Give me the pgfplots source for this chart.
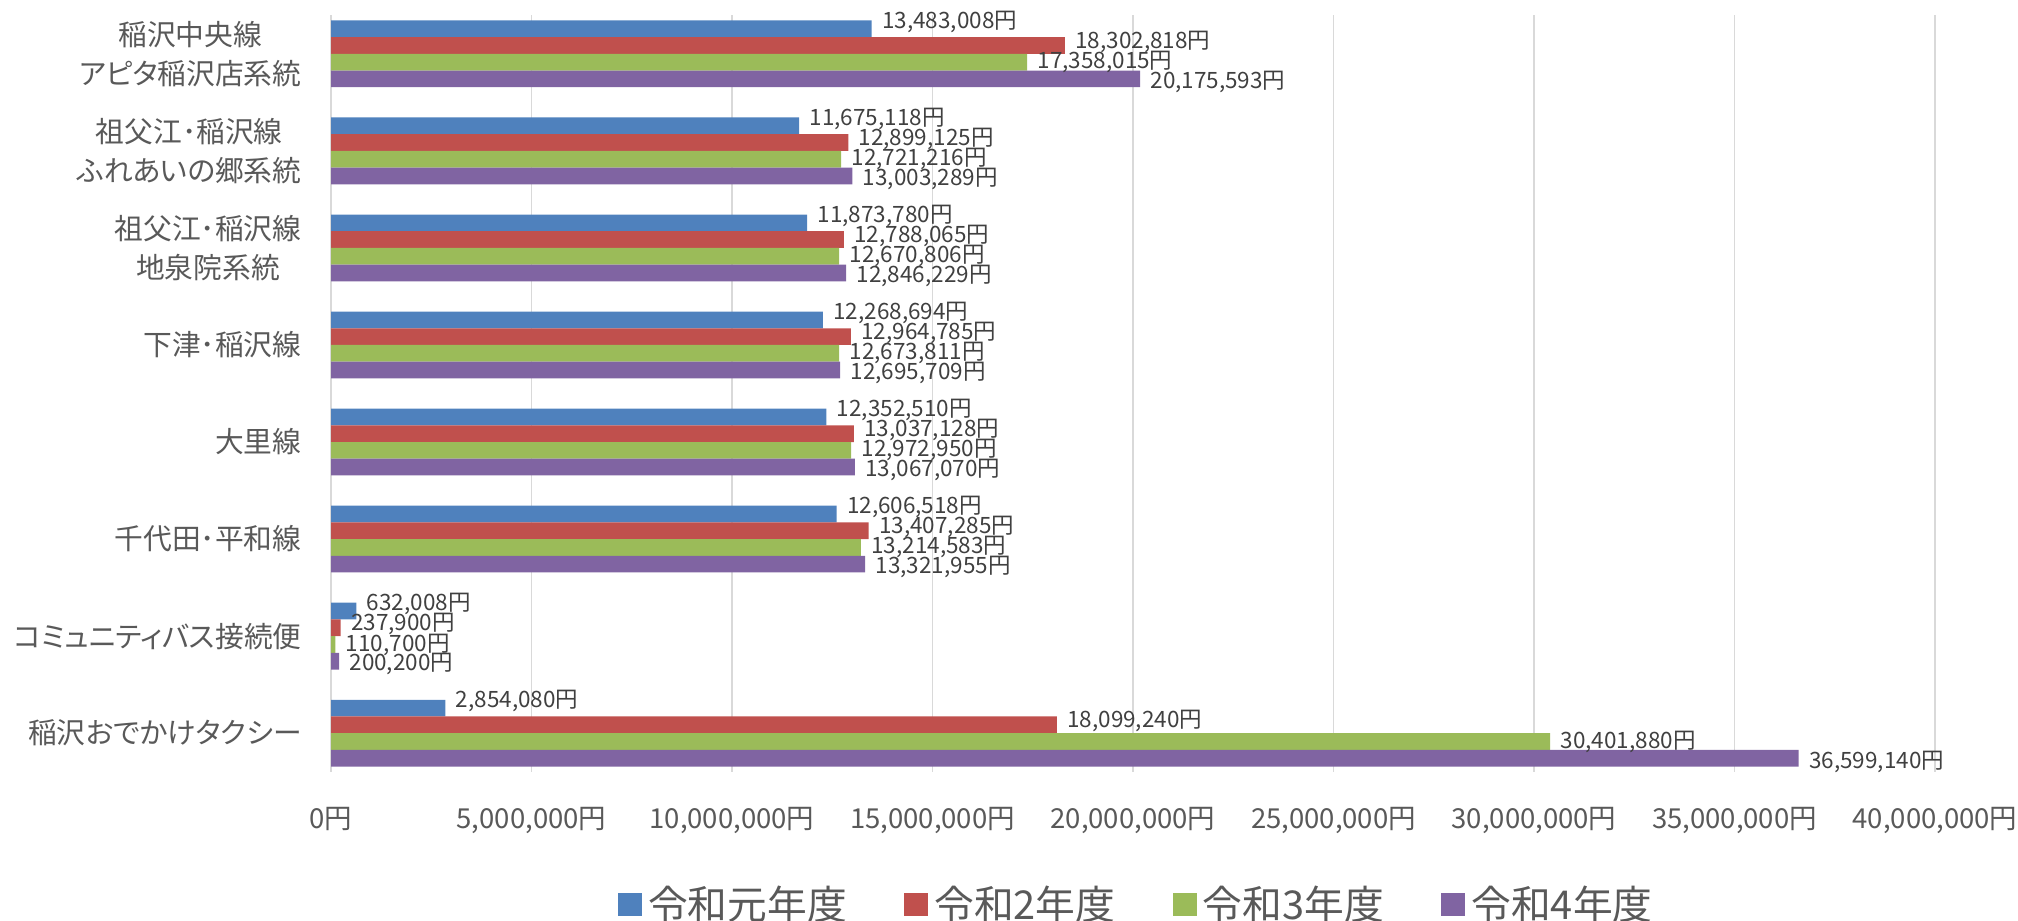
\documentclass[border=0pt]{standalone}
\usepackage{fontspec}
\setmainfont{Noto Sans CJK JP}
\newfontfamily\jpp[RawFeature=+palt]{Noto Sans CJK JP}
\usepackage{pgfplots}
\pgfplotsset{compat=1.18}
\definecolor{c1}{HTML}{4F81BD}
\definecolor{c2}{HTML}{C0504D}
\definecolor{c3}{HTML}{9BBB59}
\definecolor{c4}{HTML}{8064A2}
\definecolor{txt}{HTML}{595959}
\definecolor{lbl}{HTML}{404040}
\definecolor{gridc}{HTML}{D9D9D9}
\begin{document}
\begin{tikzpicture}[x=1pt,y=1pt]
\useasboundingbox (0,0) rectangle (807.2,368.4);
\begin{axis}[
  at={(132.4pt,59.6pt)}, anchor=south west,
  scale only axis, width=641.6pt, height=302.8pt,
  xbar,
  xmin=0, xmax=40000000,
  ymin=-0.4, ymax=7.4, y dir=reverse,
  ytick={0,1,2,3,4,5,6,7},
  yticklabels={{稲沢中央線\\アピタ稲沢店系統},{祖父江･稲沢線\\ふれあいの郷系統},{祖父江･稲沢線\\地泉院系統},{下津･稲沢線},{大里線},{千代田･平和線},{コミュニティバス接続便},{稲沢おでかけタクシー}},
  yticklabel style={align=center, font=\jpp\fontsize{11.5}{15.5}\selectfont, text=txt, xshift=-4pt},
  xtick={0,5000000,10000000,15000000,20000000,25000000,30000000,35000000,40000000},
  xticklabels={{0円},{5,000,000円},{10,000,000円},{15,000,000円},{20,000,000円},{25,000,000円},{30,000,000円},{35,000,000円},{40,000,000円}},
  xticklabel style={font=\fontsize{11}{13}\selectfont, text=txt, yshift=-10.5pt},
  scaled x ticks=false,
  xmajorgrids, major grid style={gridc, line width=0.6pt},
  axis line style={draw=none},
  tick style={draw=none},
  bar width=0.172,
  point meta=explicit symbolic,
  nodes near coords,
  nodes near coords style={font=\fontsize{9}{10}\selectfont, text=lbl, anchor=west, inner sep=1pt, xshift=3pt},
  legend style={at={(0.503,-0.175)}, anchor=center, draw=none, fill=none, legend columns=4,
    font=\fontsize{15.9}{18}\selectfont, text=txt,
    /tikz/every even column/.append style={column sep=21pt}},
  legend image code/.code={\fill[#1] (0pt,-4.7pt) rectangle (9.5pt,4.7pt); \path (10pt,0pt);},
  clip=false,
]
\addplot[fill=c1, draw=none, bar shift=-0.258, every node near coord/.append style={yshift=2.8pt}] coordinates {
 (13483008,0) [13,483,008円]
 (11675118,1) [11,675,118円]
 (11873780,2) [11,873,780円]
 (12268694,3) [12,268,694円]
 (12352510,4) [12,352,510円]
 (12606518,5) [12,606,518円]
 (632008,6) [632,008円]
 (2854080,7) [2,854,080円]
};
\addplot[fill=c2, draw=none, bar shift=-0.086, every node near coord/.append style={yshift=1.4pt}] coordinates {
 (18302818,0) [18,302,818円]
 (12899125,1) [12,899,125円]
 (12788065,2) [12,788,065円]
 (12964785,3) [12,964,785円]
 (13037128,4) [13,037,128円]
 (13407285,5) [13,407,285円]
 (237900,6) [237,900円]
 (18099240,7) [18,099,240円]
};
\addplot[fill=c3, draw=none, bar shift=0.086, every node near coord/.append style={yshift=0pt}] coordinates {
 (17358015,0) [17,358,015円]
 (12721216,1) [12,721,216円]
 (12670806,2) [12,670,806円]
 (12673811,3) [12,673,811円]
 (12972950,4) [12,972,950円]
 (13214583,5) [13,214,583円]
 (110700,6) [110,700円]
 (30401880,7) [30,401,880円]
};
\addplot[fill=c4, draw=none, bar shift=0.258, every node near coord/.append style={yshift=-1.3pt}] coordinates {
 (20175593,0) [20,175,593円]
 (13003289,1) [13,003,289円]
 (12846229,2) [12,846,229円]
 (12695709,3) [12,695,709円]
 (13067070,4) [13,067,070円]
 (13321955,5) [13,321,955円]
 (200200,6) [200,200円]
 (36599140,7) [36,599,140円]
};
\legend{令和元年度,令和2年度,令和3年度,令和4年度}
\end{axis}
\end{tikzpicture}
\end{document}
